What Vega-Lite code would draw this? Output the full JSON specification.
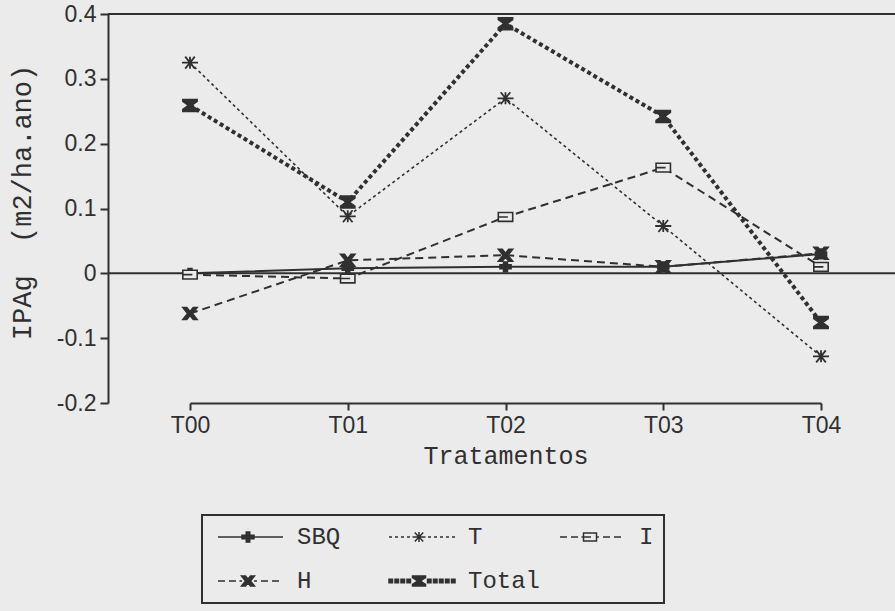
{
  "$schema": "https://vega.github.io/schema/vega-lite/v6.json",
  "width": 787,
  "height": 389,
  "autosize": "none",
  "padding": {"left": 108, "top": 14, "right": 0, "bottom": 208},
  "background": "#ebebeb",
  "config": {
    "view": {"stroke": null},
    "legend": {"strokeWidth": 2},
    "axis": {
      "grid": false,
      "tickWidth": 2,
      "tickColor": "#303030",
      "domainColor": "#303030",
      "domainWidth": 2,
      "labelColor": "#303030",
      "titleColor": "#303030",
      "titleFont": "Liberation Mono",
      "titleFontWeight": "normal",
      "labelFont": "Liberation Sans"
    },
    "axisX": {"tickSize": 7, "labelFontSize": 23, "labelPadding": 4, "titleFontSize": 25, "titleY": 60, "titleBaseline": "alphabetic", "labelAngle": 0},
    "axisY": {"tickSize": 8, "labelFontSize": 23, "labelPadding": 4, "titleFontSize": 27, "titleX": -86, "titleY": 188, "titleAngle": -90, "titleAlign": "center", "titleBaseline": "middle"}
  },
  "datasets": {
    "series": [
      {"t": "T00", "s": "SBQ", "v": 0},
      {"t": "T01", "s": "SBQ", "v": 0.008},
      {"t": "T02", "s": "SBQ", "v": 0.01},
      {"t": "T03", "s": "SBQ", "v": 0.01},
      {"t": "T04", "s": "SBQ", "v": 0.03},
      {"t": "T00", "s": "T", "v": 0.325},
      {"t": "T01", "s": "T", "v": 0.088},
      {"t": "T02", "s": "T", "v": 0.27},
      {"t": "T03", "s": "T", "v": 0.073},
      {"t": "T04", "s": "T", "v": -0.128},
      {"t": "T00", "s": "I", "v": -0.002},
      {"t": "T01", "s": "I", "v": -0.008},
      {"t": "T02", "s": "I", "v": 0.087},
      {"t": "T03", "s": "I", "v": 0.163},
      {"t": "T04", "s": "I", "v": 0.01},
      {"t": "T00", "s": "H", "v": -0.062},
      {"t": "T01", "s": "H", "v": 0.02},
      {"t": "T02", "s": "H", "v": 0.028},
      {"t": "T03", "s": "H", "v": 0.01},
      {"t": "T04", "s": "H", "v": 0.031},
      {"t": "T00", "s": "Total", "v": 0.259},
      {"t": "T01", "s": "Total", "v": 0.11},
      {"t": "T02", "s": "Total", "v": 0.385},
      {"t": "T03", "s": "Total", "v": 0.242},
      {"t": "T04", "s": "Total", "v": -0.076}
    ],
    "refs": [{"v": 0}, {"v": 0.4}]
  },
  "layer": [
    {
      "data": {"name": "refs"},
      "mark": {"type": "rule", "color": "#303030", "strokeWidth": 2},
      "encoding": {
        "y": {"field": "v", "type": "quantitative", "scale": {"domain": [-0.2, 0.4], "nice": false, "zero": false},
          "axis": {"title": "IPAg\u00a0 (m2/ha.ano)", "values": [-0.2, -0.1, 0, 0.1, 0.2, 0.3, 0.4], "labelExpr": "datum.value == 0 ? '0' : toString(round(datum.value*10)/10)"}}
      }
    },
    {
      "data": {"name": "series"},
      "encoding": {
        "x": {"field": "t", "type": "ordinal", "scale": {"type": "point", "range": [82, 713], "padding": 0}, "axis": {"title": "Tratamentos"}},
        "y": {"field": "v", "type": "quantitative", "scale": {"domain": [-0.2, 0.4], "nice": false, "zero": false},
          "axis": {"title": "IPAg\u00a0 (m2/ha.ano)", "values": [-0.2, -0.1, 0, 0.1, 0.2, 0.3, 0.4], "labelExpr": "datum.value == 0 ? '0' : toString(round(datum.value*10)/10)"}}
      },
      "layer": [
        {"transform": [{"filter": "datum.s === 'T'"}], "mark": {"type": "line", "color": "#303030", "strokeWidth": 1.6, "strokeDash": [3, 3]}, "encoding": {}},
        {"transform": [{"filter": "datum.s === 'I'"}], "mark": {"type": "line", "color": "#303030", "strokeWidth": 2, "strokeDash": [8, 5]}, "encoding": {}},
        {"transform": [{"filter": "datum.s === 'H'"}], "mark": {"type": "line", "color": "#303030", "strokeWidth": 2, "strokeDash": [8, 5]}, "encoding": {}},
        {"transform": [{"filter": "datum.s === 'SBQ'"}], "mark": {"type": "line", "color": "#303030", "strokeWidth": 2}, "encoding": {}},
        {"transform": [{"filter": "datum.s === 'Total'"}], "mark": {"type": "line", "color": "#303030", "strokeWidth": 4, "strokeDash": [4, 3]}, "encoding": {}},
        {"transform": [{"filter": "datum.s === 'SBQ'"}], "mark": {"type": "point", "filled": true, "fill": "#303030", "stroke": "#303030", "strokeWidth": 1.5, "size": 256, "opacity": 1,
          "shape": "M-0.7,-0.25H-0.25V-0.6H0.25V-0.25H0.7V0.25H0.25V0.6H-0.25V0.25H-0.7Z"}},
        {"transform": [{"filter": "datum.s === 'T'"}], "mark": {"type": "point", "filled": false, "stroke": "#303030", "strokeWidth": 1.8, "size": 256, "opacity": 1,
          "shape": "M-1,0H1M-0.6,-0.75L0.6,0.75M-0.6,0.75L0.6,-0.75M0,-0.75V0.75"}},
        {"transform": [{"filter": "datum.s === 'I'"}], "mark": {"type": "point", "filled": true, "fill": "#ebebeb", "stroke": "#303030", "strokeWidth": 1.6, "size": 256, "opacity": 1,
          "shape": "M-0.9,-0.55H0.9V0.55H-0.9ZM-0.9,0H0.3"}},
        {"transform": [{"filter": "datum.s === 'H'"}], "mark": {"type": "point", "filled": true, "fill": "#303030", "stroke": "#303030", "strokeWidth": 1.5, "size": 256, "opacity": 1,
          "shape": "M-0.9,-0.75H-0.4L0,-0.25L0.4,-0.75H0.9L0.3,0L0.9,0.75H0.4L0,0.25L-0.4,0.75H-0.9L-0.3,0Z"}},
        {"transform": [{"filter": "datum.s === 'Total'"}], "mark": {"type": "point", "filled": true, "fill": "#303030", "stroke": "#303030", "strokeWidth": 1.5, "size": 256, "opacity": 1,
          "shape": "M-0.9,-0.75H0.9V-0.5L0.2,0L0.9,0.5V0.75H-0.9V0.5L-0.2,0L-0.9,-0.5Z"}},
        {
          "transform": [{"filter": "datum.v > 1"}],
          "mark": {"type": "point", "filled": true, "stroke": "#303030", "strokeWidth": 1.5, "opacity": 1},
          "encoding": {
            "color": {
              "field": "s", "type": "nominal",
              "scale": {"domain": ["SBQ", "T", "I", "H", "Total"], "range": ["#303030", "transparent", "transparent", "#303030", "#303030"]},
              "legend": {"title": null, "orient": "none", "legendX": 94, "legendY": 501, "columns": 3, "direction": "horizontal", "padding": 10, "strokeColor": "#303030", "labelFont": "Liberation Mono", "labelFontSize": 24, "labelColor": "#303030", "labelOffset": 61, "columnPadding": 13, "rowPadding": 20, "gridAlign": "all", "symbolSize": 100, "symbolStrokeWidth": 1.5, "symbolStrokeColor": "#303030"}
            },
            "shape": {
              "field": "s", "type": "nominal",
              "scale": {"domain": ["SBQ", "T", "I", "H", "Total"], "range": [
                "M-1.2,0H11.8M3.6,-0.35H4.45V-1H5.15V-0.35H6V0.35H5.15V1H4.45V0.35H3.6Z",
                "M-1.2,0H-0.6M0,0H0.6M1.2,0H1.8M2.4,0H3M3.5,0H6.1M3.95,-0.9L5.65,0.9M3.95,0.9L5.65,-0.9M4.8,-1V1M6.6,0H7.2M7.8,0H8.4M9,0H9.6M10.2,0H10.8M11.4,0H12",
                "M-1.2,0H0.2M1,0H2.4M3.1,0H3.5M3.5,-0.8H6.1V0.8H3.5ZM3.5,0H5M6.1,0H6.6M7.4,0H8.8M9.6,0H11",
                "M-1.2,0H0.2M1,0H2.4M3.1,0H3.6M3.5,-1H4.3L4.8,-0.35L5.3,-1H6.1L5.3,0L6.1,1H5.3L4.8,0.35L4.3,1H3.5L4.3,0ZM6,0H6.6M7.4,0H8.8M9.6,0H11",
                "M-1.2,-0.35h0.7v0.7h-0.7ZM0,-0.35h0.7v0.7h-0.7ZM1.2,-0.35h0.7v0.7h-0.7ZM2.4,-0.35h0.7v0.7h-0.7ZM3.5,-1H6.1V-0.7L5.1,0L6.1,0.7V1H3.5V0.7L4.5,0L3.5,-0.7ZM6.5,-0.35h0.7v0.7h-0.7ZM7.7,-0.35h0.7v0.7h-0.7ZM8.9,-0.35h0.7v0.7h-0.7ZM10.1,-0.35h0.7v0.7h-0.7ZM11.3,-0.35h0.7v0.7h-0.7Z"
              ]},
              "legend": {"title": null, "orient": "none", "legendX": 94, "legendY": 501, "columns": 3, "direction": "horizontal", "padding": 10, "strokeColor": "#303030", "labelFont": "Liberation Mono", "labelFontSize": 24, "labelColor": "#303030", "labelOffset": 61, "columnPadding": 13, "rowPadding": 20, "gridAlign": "all", "symbolSize": 100, "symbolStrokeWidth": 1.5, "symbolStrokeColor": "#303030"}
            }
          }
        }
      ]
    }
  ]
}
